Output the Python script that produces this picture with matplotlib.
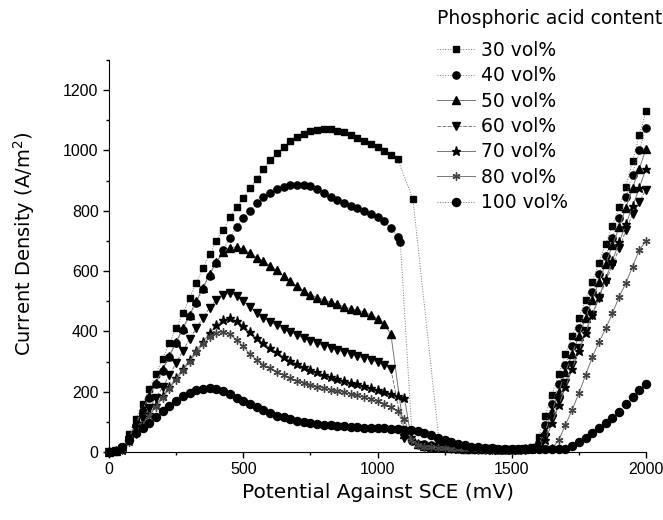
import matplotlib
matplotlib.use("Agg")
import matplotlib.pyplot as plt
from matplotlib.ticker import MultipleLocator

plt.rcParams['font.family'] = ['Liberation Sans', 'DejaVu Sans']

# Potential grid (mV) of the active region
E_active = [0, 25, 50, 75, 100, 125, 150, 175, 200, 225, 250, 275, 300, 325, 350,
            375, 400, 425, 450, 475, 500, 525, 550, 575, 600, 625, 650, 675, 700,
            725, 750, 775, 800, 825, 850, 875, 900, 925, 950, 975, 1000, 1025,
            1050, 1075]
# Potential grid (mV) of the passive / transpassive region
E_pass = [1250, 1275, 1300, 1325, 1350, 1375, 1400, 1425, 1450, 1475, 1500, 1525,
          1550, 1575, 1600, 1625, 1650, 1675, 1700, 1725, 1750, 1775, 1800, 1825,
          1850, 1875, 1900, 1925, 1950, 1975, 2000]

labels = ['30 vol%', '40 vol%', '50 vol%', '60 vol%', '70 vol%', '80 vol%', '100 vol%']

# Current density (A/m^2)
y30_active = [0, 3, 15, 60, 110, 160, 210, 260, 310, 360, 410, 460, 510, 560, 610,
              655, 700, 735, 779, 812, 843, 875, 905, 937, 967, 991, 1010, 1030, 1044,
              1056, 1064, 1069, 1071, 1070, 1066, 1060, 1052, 1042, 1032, 1022, 1010,
              999, 986, 971]
y30_drop_E = [1132, 1230]
y30_drop = [838, 30]
y30_pass = [25, 20, 16, 14, 12, 11, 10, 10, 9, 9, 9, 9, 10, 15, 50, 120, 190, 260,
            325, 385, 445, 505, 565, 628, 690, 750, 812, 880, 965, 1050, 1130]

y40_active = [0, 2, 10, 45, 90, 135, 180, 225, 270, 315, 360, 405, 450, 495, 540,
              585, 628, 670, 710, 745, 775, 800, 825, 845, 860, 872, 880, 885, 887,
              886, 882, 872, 858, 846, 836, 825, 815, 808, 800, 790, 778, 765, 742, 712]
y40_drop_E = [1085, 1130, 1175, 1200, 1225]
y40_drop = [696, 35, 25, 22, 20]
y40_pass = [20, 17, 14, 12, 11, 10, 10, 9, 9, 9, 9, 9, 10, 12, 30, 90, 160, 225,
            290, 350, 410, 470, 530, 590, 650, 710, 775, 845, 920, 1000, 1075]

y50_active = [0, 2, 12, 50, 95, 140, 185, 230, 275, 320, 365, 410, 455, 500, 545,
              590, 630, 662, 678, 680, 672, 660, 645, 632, 618, 602, 585, 566, 550,
              535, 522, 512, 505, 497, 490, 482, 475, 470, 465, 455, 442, 425, 390]
y50_drop_E = [1100, 1150, 1175, 1200, 1225]
y50_drop = [60, 25, 20, 18, 16]
y50_pass = [15, 13, 12, 11, 10, 10, 9, 9, 9, 9, 9, 9, 10, 12, 22, 70, 135, 200,
            265, 325, 385, 445, 505, 565, 625, 685, 745, 810, 875, 940, 1005]

y60_active = [0, 2, 10, 40, 75, 110, 145, 180, 215, 255, 295, 335, 375, 410, 445,
              478, 505, 522, 526, 518, 500, 480, 460, 445, 432, 420, 408, 397, 388,
              378, 368, 360, 352, 345, 338, 331, 324, 318, 312, 306, 298, 288, 275]
y60_drop_E = [1100, 1150, 1175, 1200, 1225]
y60_drop = [45, 22, 18, 16, 15]
y60_pass = [14, 12, 11, 10, 10, 9, 9, 9, 8, 8, 8, 8, 9, 10, 18, 50, 110, 170,
            230, 290, 345, 400, 455, 510, 565, 620, 675, 735, 790, 830, 870]

y70_active = [0, 2, 8, 35, 65, 95, 125, 155, 185, 215, 245, 275, 305, 335, 365,
              395, 420, 437, 443, 435, 418, 398, 378, 360, 345, 330, 316, 303, 292,
              282, 272, 264, 256, 249, 242, 236, 230, 224, 218, 212, 206, 200, 193, 186]
y70_drop_E = [1100, 1125, 1150, 1175, 1200, 1225]
y70_drop = [180, 50, 25, 20, 17, 15]
y70_pass = [14, 12, 11, 10, 9, 9, 9, 8, 8, 8, 8, 8, 9, 10, 15, 40, 95, 155,
            215, 275, 335, 395, 455, 515, 575, 635, 695, 755, 815, 875, 940]

y80_active = [0, 2, 8, 32, 60, 90, 120, 150, 180, 210, 240, 270, 300, 330, 358,
              382, 396, 398, 390, 372, 350, 325, 305, 290, 277, 266, 255, 245, 237,
              230, 223, 217, 212, 207, 202, 198, 193, 188, 182, 175, 168, 160, 150, 135]
y80_drop_E = [1100, 1125, 1150, 1175, 1200, 1225]
y80_drop = [110, 40, 22, 18, 16, 14]
y80_pass = [13, 11, 10, 9, 9, 8, 8, 8, 8, 8, 8, 8, 8, 9, 10, 10, 12, 40,
            90, 140, 195, 255, 315, 365, 410, 460, 515, 560, 615, 670, 700]

y100_active = [0, 2, 15, 40, 62, 80, 95, 115, 135, 152, 170, 185, 196, 205, 210,
               212, 210, 203, 192, 180, 168, 158, 148, 138, 129, 121, 115, 109, 104,
               100, 97, 94, 91, 89, 87, 85, 83, 82, 81, 80, 79, 78, 77, 76]
y100_drop_E = [1100, 1125, 1150, 1175, 1200, 1225]
y100_drop = [74, 72, 68, 62, 55, 47]
y100_pass = [40, 33, 27, 22, 18, 15, 13, 12, 11, 10, 10, 9, 9, 9, 9, 9, 9, 10,
             10, 20, 33, 46, 62, 78, 95, 113, 133, 158, 182, 205, 225]

series = [
    (y30_active, y30_drop_E, y30_drop, y30_pass),
    (y40_active, y40_drop_E, y40_drop, y40_pass),
    (y50_active, y50_drop_E, y50_drop, y50_pass),
    (y60_active, y60_drop_E, y60_drop, y60_pass),
    (y70_active, y70_drop_E, y70_drop, y70_pass),
    (y80_active, y80_drop_E, y80_drop, y80_pass),
    (y100_active, y100_drop_E, y100_drop, y100_pass),
]

markers = ['s', 'o', '^', 'v', '*', (6, 2, 0), 'o']
msizes = [5.0, 5.2, 5.4, 5.4, 6.5, 5.8, 5.8]
mcolors = ['black', 'black', 'black', 'black', 'black', '#444444', 'black']
lstyles = [':', ':', '-', '--', '-', '-', ':']

fig = plt.figure(figsize=(6.63, 5.2), dpi=100)
ax = fig.add_axes([109/663, 1 - 452/520, (646 - 109)/663, (452 - 60)/520])

for (ya, dE, dy, yp), lab, mk, ms, mc, ls in zip(series, labels, markers, msizes, mcolors, lstyles):
    x = E_active[:len(ya)] + dE + E_pass
    y = ya + dy + yp
    ax.plot(x, y, linestyle=ls, color='#777777', linewidth=0.7,
            marker=mk, markersize=ms, markerfacecolor=mc, markeredgecolor=mc,
            markeredgewidth=1.0, label=lab, clip_on=False)

ax.set_xlim(0, 2000)
ax.set_ylim(0, 1300)
ax.xaxis.set_major_locator(MultipleLocator(500))
ax.xaxis.set_minor_locator(MultipleLocator(250))
ax.yaxis.set_major_locator(MultipleLocator(200))
ax.yaxis.set_minor_locator(MultipleLocator(100))
ax.spines['top'].set_visible(False)
ax.spines['right'].set_visible(False)
ax.tick_params(which='major', direction='out', length=4, width=1, labelsize=11.5)
ax.tick_params(which='minor', direction='out', length=2.5, width=1)
ax.set_xlabel('Potential Against SCE (mV)', fontsize=14.5, labelpad=4,
              family=['DejaVu Sans'])
ax.set_ylabel('Current Density (A/m$^2$)', fontsize=14, labelpad=14,
              family=['DejaVu Sans'])
ax.yaxis.set_label_coords(-0.135, 0.53)

fig.text(437/663, 1 - 18/520, 'Phosphoric acid content', fontsize=13.5,
         family=['DejaVu Sans'], ha='left', va='center')
leg = fig.legend(loc='upper left', bbox_to_anchor=(437/663, 1 - 41/520), frameon=False,
                 prop={'family': ['DejaVu Sans'], 'size': 13.5},
                 handlelength=2.0, handletextpad=0.35,
                 labelspacing=0.34, borderaxespad=0, borderpad=0)

fig.savefig('out.png', dpi=100)
